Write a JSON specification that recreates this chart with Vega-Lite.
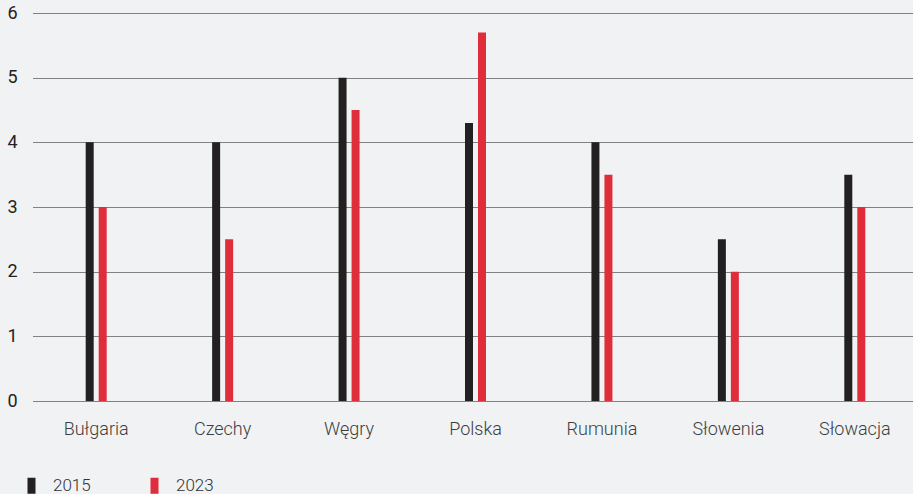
{
  "$schema": "https://vega.github.io/schema/vega-lite/v6.json",
  "width": 885,
  "height": 388,
  "autosize": {"type": "none"},
  "padding": {"left": 33, "top": 13, "right": 0, "bottom": 93},
  "background": "#f1f2f4",
  "config": {
    "view": {"stroke": null},
    "font": "Roboto"
  },
  "data": {
    "values": [
      {"kraj": "Bułgaria", "rok": "2015", "wartosc": 4.0},
      {"kraj": "Bułgaria", "rok": "2023", "wartosc": 3.0},
      {"kraj": "Czechy", "rok": "2015", "wartosc": 4.0},
      {"kraj": "Czechy", "rok": "2023", "wartosc": 2.5},
      {"kraj": "Węgry", "rok": "2015", "wartosc": 5.0},
      {"kraj": "Węgry", "rok": "2023", "wartosc": 4.5},
      {"kraj": "Polska", "rok": "2015", "wartosc": 4.3},
      {"kraj": "Polska", "rok": "2023", "wartosc": 5.7},
      {"kraj": "Rumunia", "rok": "2015", "wartosc": 4.0},
      {"kraj": "Rumunia", "rok": "2023", "wartosc": 3.5},
      {"kraj": "Słowenia", "rok": "2015", "wartosc": 2.5},
      {"kraj": "Słowenia", "rok": "2023", "wartosc": 2.0},
      {"kraj": "Słowacja", "rok": "2015", "wartosc": 3.5},
      {"kraj": "Słowacja", "rok": "2023", "wartosc": 3.0}
    ]
  },
  "mark": {"type": "bar", "size": 8},
  "encoding": {
    "x": {
      "field": "kraj",
      "type": "nominal",
      "sort": null,
      "scale": {"paddingInner": 0.7943, "paddingOuter": 0.397},
      "axis": {
        "title": null,
        "labelAngle": 0,
        "domain": false,
        "ticks": false,
        "labelFontSize": 18,
        "labelFontWeight": 300,
        "labelColor": "#3d3d3d",
        "labelPadding": 19,
        "labelBaseline": "top"
      }
    },
    "xOffset": {"field": "rok", "type": "nominal", "scale": {"paddingInner": 0, "paddingOuter": 0}},
    "y": {
      "field": "wartosc",
      "type": "quantitative",
      "scale": {"domain": [0, 6], "nice": false},
      "axis": {
        "title": null,
        "values": [0, 1, 2, 3, 4, 5, 6],
        "domain": false,
        "ticks": false,
        "grid": true,
        "gridColor": "#111111",
        "gridDash": [1, 1],
        "gridWidth": 1,
        "labelAlign": "left",
        "labelPadding": 26,
        "labelBaseline": "middle",
        "labelDy": 7,
        "labelFontSize": 18,
        "labelFontWeight": 400,
        "labelColor": "#222222"
      }
    },
    "color": {
      "field": "rok",
      "type": "nominal",
      "scale": {"domain": ["2015", "2023"], "range": ["#222021", "#e02d3c"]},
      "legend": {
        "title": null,
        "orient": "none",
        "direction": "horizontal",
        "legendX": -10,
        "legendY": 464,
        "symbolType": "M-0.5,-1L0.5,-1L0.5,1L-0.5,1Z",
        "symbolSize": 256,
        "symbolStrokeWidth": 0,
        "labelFontSize": 17,
        "labelFontWeight": 300,
        "labelColor": "#333333",
        "labelOffset": 13,
        "columnPadding": 55
      }
    }
  }
}
